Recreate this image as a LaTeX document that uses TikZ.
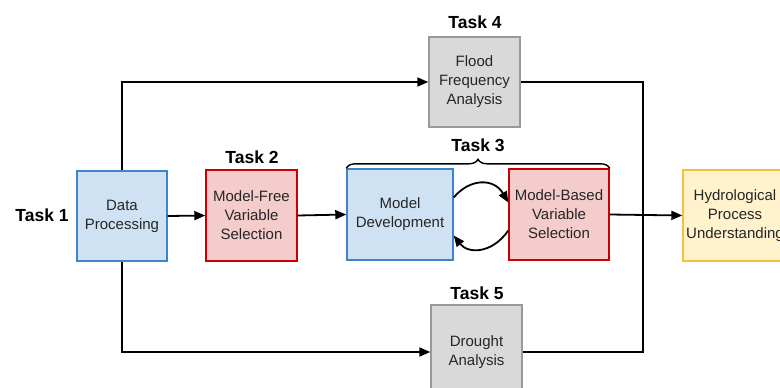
\documentclass[tikz,border=0pt]{standalone}
\usepackage{fontspec}
\setmainfont{Liberation Sans}
\usetikzlibrary{arrows.meta,decorations.pathreplacing}
\definecolor{bluefill}{HTML}{CFE2F3}
\definecolor{blueline}{HTML}{3D85C6}
\definecolor{redfill}{HTML}{F4CCCC}
\definecolor{redline}{HTML}{CC0000}
\definecolor{grayfill}{HTML}{D9D9D9}
\definecolor{grayline}{HTML}{999999}
\definecolor{yelfill}{HTML}{FFF2CC}
\definecolor{yelline}{HTML}{F1C232}
\tikzset{
  box/.style={draw, line width=1.4pt, align=center, inner sep=1pt,
    font=\fontsize{15}{19}\selectfont, text=black!85},
  bluebox/.style={box, fill=bluefill, draw=blueline},
  redbox/.style={box, fill=redfill, draw=redline},
  graybox/.style={box, fill=grayfill, draw=grayline},
  yelbox/.style={box, fill=yelfill, draw=yelline},
  tasklbl/.style={font=\fontsize{17.5}{20}\selectfont\bfseries},
  conn/.style={line width=1.8pt, black},
  arr/.style={conn, -{Triangle[length=11pt,width=9pt]}},
}
\begin{document}
\begin{tikzpicture}[x=1pt,y=-1pt]
\useasboundingbox (0,0) rectangle (780,388);
\node[bluebox, minimum width=90pt, minimum height=90pt] (dp) at (122,216) {Data\\Processing};
\node[redbox, minimum width=91pt, minimum height=91pt] (mf) at (251.5,215.5) {Model-Free\\Variable\\Selection};
\node[bluebox, minimum width=106pt, minimum height=91pt] (md) at (400,214.5) {Model\\Development};
\node[redbox, minimum width=100pt, minimum height=91pt] (mb) at (559,214.5) {Model-Based\\Variable\\Selection};
\node[yelbox, minimum width=104pt, minimum height=91pt] (hy) at (735,215.5) {Hydrological\\Process\\Understanding};
\node[graybox, minimum width=91pt, minimum height=90pt] (ff) at (474.5,82) {Flood\\Frequency\\Analysis};
\node[graybox, minimum width=91pt, minimum height=94pt] (dr) at (476.5,352) {Drought\\Analysis};

\node[tasklbl] (t1) at (42,215) {Task 1};
\node[tasklbl] (t2) at (252,157) {Task 2};
\node[tasklbl] (t3) at (478,145) {Task 3};
\node[tasklbl] (t4) at (475,22) {Task 4};
\node[tasklbl] (t5) at (477,293) {Task 5};

\coordinate (vl) at (643,216);

\draw[arr] (dp.north) |- (ff.west);
\draw[arr] (dp.south) |- (dr.west);
\draw[conn] (ff.east) -| (vl) |- (dr.east);
\draw[arr] (dp.east) -- (mf.west);
\draw[arr] (mf.east) -- (md.west);
\draw[arr] (mb.east) -- (hy.west);
\draw[arr] ([yshift=17pt]md.east) .. controls (470,178) and (494,178) .. ([yshift=12pt]mb.west);
\draw[arr] ([yshift=-16pt]mb.west) .. controls (492,254) and (468,254) .. ([yshift=-21pt]md.east);
\draw[line width=1.4pt, decorate, decoration={brace, amplitude=9pt}] (md.north west) -- (mb.north east);
\end{tikzpicture}
\end{document}
